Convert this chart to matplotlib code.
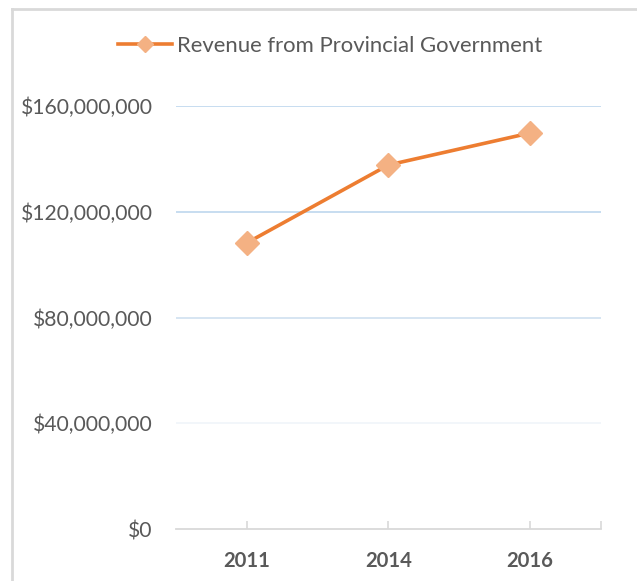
import matplotlib.pyplot as plt
from matplotlib.lines import Line2D
from matplotlib.ticker import FuncFormatter

# Datos
years = ['2011', '2014', '2016']
revenue = [108200000, 137700000, 149800000]
y_ticks = [0, 40000000, 80000000, 120000000, 160000000]

plt.rcParams['font.family'] = ['Lato', 'DejaVu Sans']
text_color = '#595959'

fig = plt.figure(figsize=(6.37, 5.81), dpi=100)
ax = fig.add_axes([0.276, 0.0895, 0.6675, 0.728])

# Líneas de cuadrícula (la de 40M casi invisible, como en el original)
grid_colors = ['#f0f5fa', '#cfe0f0', '#bdd7ee', '#bdd7ee']
for yv, c in zip(y_ticks[1:], grid_colors):
    ax.axhline(yv, color=c, lw=1.2, zorder=0)

x = list(range(len(years)))
ax.plot(x, revenue, color='#ed7d31', lw=2.6, marker='D', markersize=12,
        markerfacecolor='#f4b183', markeredgecolor='#f4b183',
        label='Revenue from Provincial Government', zorder=3)

ax.set_xlim(-0.5, 2.5)
ax.set_ylim(0, 160000000)
ax.set_yticks(y_ticks)
ax.yaxis.set_major_formatter(FuncFormatter(lambda v, p: '${:,.0f}'.format(v)))
ax.set_xticks(x)
ax.set_xticks([2.5], minor=True)
ax.set_xticklabels(years, fontweight='bold')

for s in ['top', 'right', 'left']:
    ax.spines[s].set_visible(False)
ax.spines['bottom'].set_color('#d9d9d9')
ax.spines['bottom'].set_linewidth(1.3)

ax.tick_params(axis='y', length=0, pad=16.5, labelsize=15.2, labelcolor=text_color)
ax.tick_params(axis='x', which='both', direction='in', length=6, color='#d9d9d9',
               width=1.2, pad=16, labelsize=14.6, labelcolor=text_color)

leg = fig.legend(loc='center', bbox_to_anchor=(0.518, 0.921), frameon=False,
                 fontsize=15.9, handlelength=2.45, handletextpad=0.2)
leg.legend_handles[0].set_markersize(8)
for t in leg.get_texts():
    t.set_color(text_color)

# Borde del gráfico (solo visible arriba e izquierda)
fig.add_artist(Line2D([12 / 637, 12 / 637], [0, 1 - 8.5 / 581], color='#d9d9d9', lw=2))
fig.add_artist(Line2D([12 / 637, 1], [1 - 8.5 / 581, 1 - 8.5 / 581], color='#d9d9d9', lw=2))

fig.savefig('out.png', dpi=100)
